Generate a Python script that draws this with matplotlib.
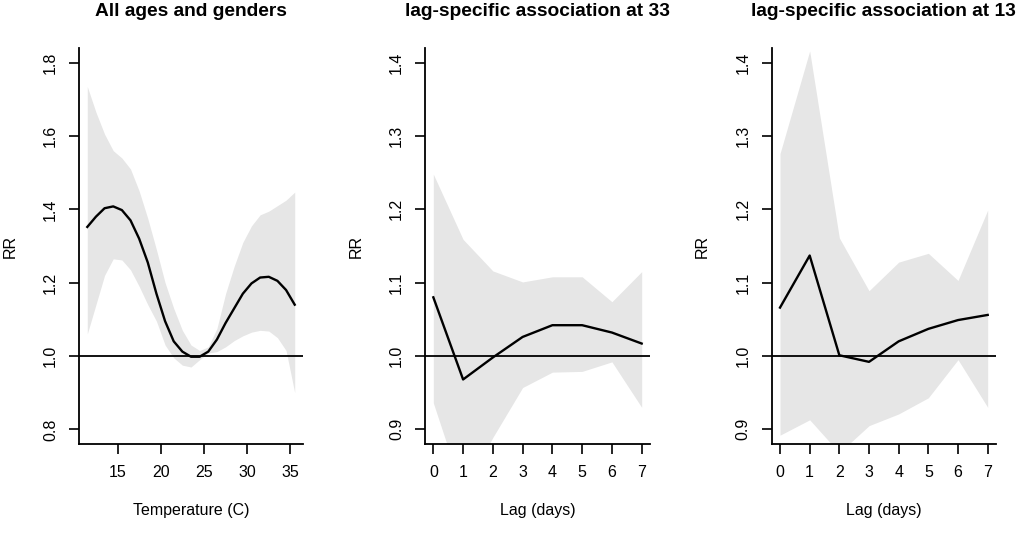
import numpy as np
import matplotlib
matplotlib.use("Agg")
import matplotlib.pyplot as plt

plt.rcParams['font.family'] = ['Liberation Sans', 'DejaVu Sans']

# overall cumulative curve, temperature grid
temp = [11.5, 12.5, 13.5, 14.5, 15.5, 16.5, 17.5, 18.5, 19.5, 20.5, 21.5, 22.5, 23.5,
        24.5, 25.5, 26.5, 27.5, 28.5, 29.5, 30.5, 31.5, 32.5, 33.5, 34.5, 35.5]
rr_all = [1.352, 1.38, 1.403, 1.408, 1.398, 1.37, 1.32, 1.255, 1.17, 1.095, 1.04, 1.012, 0.998,
          0.998, 1.012, 1.045, 1.09, 1.13, 1.17, 1.198, 1.214, 1.216, 1.205, 1.18, 1.14]
hi_all = [1.735, 1.665, 1.605, 1.56, 1.54, 1.51, 1.45, 1.375, 1.29, 1.2, 1.13, 1.07, 1.03,
          1.015, 1.025, 1.075, 1.17, 1.245, 1.31, 1.355, 1.385, 1.395, 1.41, 1.425, 1.447]
lo_all = [1.06, 1.14, 1.22, 1.265, 1.262, 1.235, 1.19, 1.14, 1.095, 1.03, 0.995, 0.975, 0.97,
          0.99, 1.008, 1.012, 1.025, 1.042, 1.055, 1.065, 1.07, 1.068, 1.05, 1.015, 0.9]

# lag-specific curves
lags = [0, 1, 2, 3, 4, 5, 6, 7]
rr_33 = [1.080, 0.968, 0.998, 1.026, 1.042, 1.042, 1.032, 1.017]
hi_33 = [1.248, 1.159, 1.116, 1.101, 1.108, 1.108, 1.074, 1.115]
lo_33 = [0.936, 0.813, 0.889, 0.957, 0.978, 0.979, 0.992, 0.930]

rr_13 = [1.066, 1.137, 1.001, 0.992, 1.020, 1.037, 1.049, 1.056]
hi_13 = [1.276, 1.416, 1.161, 1.089, 1.128, 1.140, 1.103, 1.199]
lo_13 = [0.892, 0.913, 0.868, 0.905, 0.921, 0.943, 0.995, 0.930]

titles = ["All ages and genders", "lag-specific association at 33",
          "lag-specific association at 13"]
xlabels = ["Temperature (C)", "Lag (days)", "Lag (days)"]

W, H = 1021, 545
fig = plt.figure(figsize=(W / 100, H / 100), dpi=100)

# axes boxes in pixels: left, right, top, bottom
boxes = [(79, 303, 48, 444), (425, 650, 48, 444), (771.7, 996, 48, 444)]

panels = [
    (temp, rr_all, lo_all, hi_all, (0.8, 1.8), [15, 20, 25, 30, 35], np.arange(0.8, 1.81, 0.2)),
    (lags, rr_33, lo_33, hi_33, (0.9, 1.4), lags, np.arange(0.9, 1.41, 0.1)),
    (lags, rr_13, lo_13, hi_13, (0.9, 1.4), lags, np.arange(0.9, 1.41, 0.1)),
]

band_col = '#e6e6e6'
fs = 11.5

for i, (x, rr, lo, hi, ylim, xt, yt) in enumerate(panels):
    l, r, t, b = boxes[i]
    ax = fig.add_axes([l / W, 1 - b / H, (r - l) / W, (b - t) / H])
    ax.fill_between(x, lo, hi, color=band_col, linewidth=0)
    ax.axhline(1.0, color='black', lw=1.3)
    ax.plot(x, rr, color='black', lw=1.7)

    # R style 4% axis extension
    xr = max(x) - min(x)
    ax.set_xlim(min(x) - 0.04 * xr, max(x) + 0.04 * xr)
    yr = ylim[1] - ylim[0]
    ax.set_ylim(ylim[0] - 0.04 * yr, ylim[1] + 0.04 * yr)

    ax.set_xticks(xt)
    ax.set_yticks(yt)
    ax.set_yticklabels(["%.1f" % v for v in yt], rotation=90, va='center')
    ax.tick_params(axis='both', length=7.2, width=1.2, labelsize=fs, color='black')
    ax.tick_params(axis='x', pad=8)
    ax.tick_params(axis='y', pad=8)

    for s in ['top', 'right']:
        ax.spines[s].set_visible(False)
    for s in ['left', 'bottom']:
        ax.spines[s].set_linewidth(1.3)

    ax.set_xlabel(xlabels[i], fontsize=fs)
    ax.set_ylabel("RR", fontsize=fs)
    ax.xaxis.set_label_coords(0.5, -66 / (b - t))
    ax.xaxis.label.set_va('center')
    ax.yaxis.set_label_coords(-69 / (r - l), 0.5)
    ax.yaxis.label.set_va('center')

    fig.text((l + r) / 2 / W, 1 - 12 / H, titles[i], ha='center', va='center',
             fontsize=13.8, fontweight='bold')

fig.savefig("out.png", dpi=100)
